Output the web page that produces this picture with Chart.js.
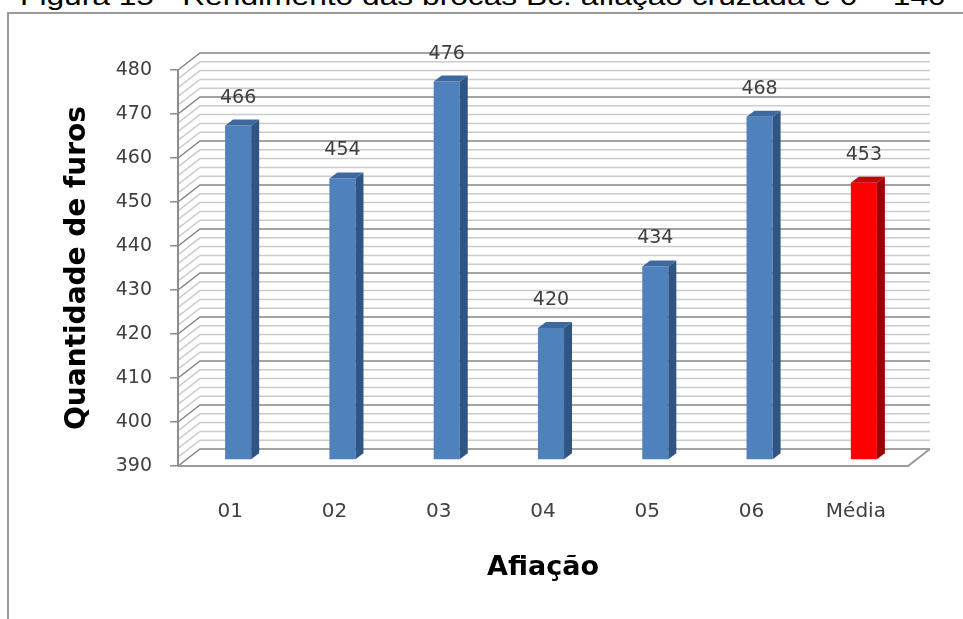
<!DOCTYPE html>
<html>
<head>
<meta charset="utf-8">
<script src="https://cdn.jsdelivr.net/npm/chart.js@4/dist/chart.umd.min.js"></script>
<style>
  html, body { margin: 0; padding: 0; background: #fff; overflow: hidden; }
  #wrap { position: relative; width: 963px; height: 619px; overflow: hidden; }
  #legenda { position: absolute; left: 20px; top: -17px; font: 26px/26px "Liberation Sans", Arial, sans-serif; color: #000; white-space: nowrap; transform: scaleX(1.22); transform-origin: left top; }
  #moldura { position: absolute; left: 7px; top: 12px; width: 1000px; height: 700px; border: 2px solid #9a9a9a; box-shadow: 1px 1px 2px #c8c8c8; }
  #grafico { position: absolute; left: 0; top: 0; }
</style>
</head>
<body>
<div id="wrap">
  <div id="legenda">Figura 15 - Rendimento das brocas Bc: afiação cruzada e 0 – 140</div>
  <div id="moldura"></div>
  <canvas id="grafico" width="963" height="619"></canvas>
</div>
<script>
// Afiações e quantidade de furos obtidos em cada uma
const afiacoes = ['01', '02', '03', '04', '05', '06', 'Média'];
const furos = [466, 454, 476, 420, 434, 468, 453];
const eixoMin = 390;
const eixoMax = 480;
const eixoPasso = 10;
const gradeMenor = 2;

// profundidade das paredes e das colunas (efeito 3D)
const PAREDE = { x: 22, y: -17 };
const DESLOC = { x: 8, y: -6 };
const LADO = { x: 8, y: -6 };

const cores = (rotulo) => rotulo === 'Média'
  ? { frente: '#ff0000', lado: '#9c0000', topo: '#c80000' }
  : { frente: '#4f81bd', lado: '#2f5585', topo: '#3d69a0' };

const paredes = {
  id: 'paredes',
  beforeDraw(chart) {
    const { ctx, chartArea: a, scales: { y } } = chart;
    ctx.save();
    for (let v = eixoMin; v <= eixoMax; v += gradeMenor) {
      const py = y.getPixelForValue(v);
      const maior = (v - eixoMin) % eixoPasso === 0;
      ctx.strokeStyle = maior ? '#858585' : '#cccccc';
      ctx.lineWidth = 1.5;
      ctx.beginPath();
      ctx.moveTo(a.left, py);
      ctx.lineTo(a.left + PAREDE.x, py + PAREDE.y);
      ctx.lineTo(a.right + PAREDE.x, py + PAREDE.y);
      ctx.stroke();
    }
    // chão
    ctx.strokeStyle = '#9a9a9a';
    ctx.lineWidth = 2;
    ctx.beginPath();
    ctx.moveTo(a.left, a.bottom);
    ctx.lineTo(a.right, a.bottom);
    ctx.lineTo(a.right + PAREDE.x, a.bottom + PAREDE.y);
    ctx.stroke();
    ctx.restore();
  },
  beforeDatasetsDraw(chart) {
    chart.ctx.save();
    chart.ctx.translate(DESLOC.x, DESLOC.y);
  },
  afterDatasetsDraw(chart) {
    const { ctx } = chart;
    const meta = chart.getDatasetMeta(0);
    meta.data.forEach((barra, i) => {
      const c = cores(afiacoes[i]);
      const esq = barra.x - barra.width / 2;
      const dir = barra.x + barra.width / 2;
      // face lateral
      ctx.fillStyle = c.lado;
      ctx.beginPath();
      ctx.moveTo(dir, barra.y);
      ctx.lineTo(dir + LADO.x, barra.y + LADO.y);
      ctx.lineTo(dir + LADO.x, barra.base + LADO.y);
      ctx.lineTo(dir, barra.base);
      ctx.closePath();
      ctx.fill();
      // topo
      ctx.fillStyle = c.topo;
      ctx.beginPath();
      ctx.moveTo(esq, barra.y);
      ctx.lineTo(esq + LADO.x, barra.y + LADO.y);
      ctx.lineTo(dir + LADO.x, barra.y + LADO.y);
      ctx.lineTo(dir, barra.y);
      ctx.closePath();
      ctx.fill();
      // valor
      ctx.fillStyle = '#404040';
      ctx.font = '19px "DejaVu Sans"';
      ctx.textAlign = 'center';
      ctx.textBaseline = 'middle';
      ctx.fillText(String(furos[i]), barra.x, barra.y - 28);
    });
    ctx.restore();
  }
};

new Chart(document.getElementById('grafico'), {
  type: 'bar',
  data: {
    labels: afiacoes,
    datasets: [{
      data: furos,
      backgroundColor: afiacoes.map(r => cores(r).frente),
      barPercentage: 1,
      categoryPercentage: 0.25,
      base: eixoMin
    }]
  },
  options: {
    responsive: false,
    animation: false,
    layout: { padding: { top: 70, right: 55, bottom: 0, left: 0 } },
    plugins: { legend: { display: false }, tooltip: { enabled: false } },
    scales: {
      y: {
        min: eixoMin,
        max: eixoMax,
        ticks: { stepSize: eixoPasso, color: '#404040', font: { family: 'DejaVu Sans', size: 19 }, padding: 18 },
        grid: { drawOnChartArea: false, tickLength: 8, color: '#8c8c8c', lineWidth: 1.5 },
        border: { color: '#8c8c8c', width: 2 },
        title: {
          display: true,
          text: 'Quantidade de furos',
          color: '#000',
          font: { family: 'DejaVu Sans', size: 28, weight: 'bold' },
          padding: { top: 61, bottom: 0 }
        },
        afterFit(s) { s.width = 178; }
      },
      x: {
        grid: { display: false, drawTicks: false },
        border: { display: false },
        ticks: { color: '#404040', font: { family: 'DejaVu Sans', size: 20 }, padding: 34 },
        title: {
          display: true,
          text: 'Afiação',
          color: '#000',
          font: { family: 'DejaVu Sans', size: 27, weight: 'bold' },
          padding: { top: 0, bottom: 35 }
        },
        afterFit(s) { s.height = 619 - 466; }
      }
    }
  },
  plugins: [paredes]
});
</script>
</body>
</html>
